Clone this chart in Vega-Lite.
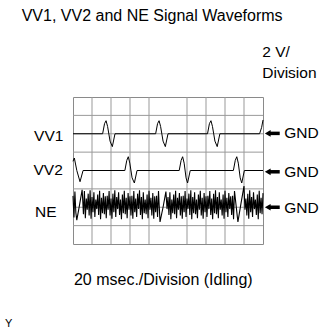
{
  "$schema": "https://vega.github.io/schema/vega-lite/v6.json",
  "width": 190,
  "height": 147,
  "autosize": {"type": "none"},
  "padding": {"left": 73, "top": 97, "right": 70, "bottom": 89},
  "background": "white",
  "config": {"view": {"stroke": "#8a8a8a", "strokeWidth": 1}, "font": "Liberation Sans", "axis": {"disable": true}},
  "datasets": {
    "gx": [{"v": 1}, {"v": 2}, {"v": 3}, {"v": 4}, {"v": 6}, {"v": 7}, {"v": 8}, {"v": 9}],
    "gy": [{"v": 1}, {"v": 2}, {"v": 3}, {"v": 5}, {"v": 6}, {"v": 7}],
    "vv1": [
      {"x": 0, "y": 6}, {"x": 1.56, "y": 6}, {"x": 1.66, "y": 6.55}, {"x": 1.74, "y": 6.71}, {"x": 1.82, "y": 6.4}, {"x": 1.95, "y": 5.6}, {"x": 2.07, "y": 5.3}, {"x": 2.21, "y": 6},
      {"x": 4.35, "y": 6}, {"x": 4.45, "y": 6.55}, {"x": 4.53, "y": 6.71}, {"x": 4.61, "y": 6.4}, {"x": 4.74, "y": 5.6}, {"x": 4.86, "y": 5.3}, {"x": 5.0, "y": 6},
      {"x": 7.08, "y": 6}, {"x": 7.18, "y": 6.55}, {"x": 7.26, "y": 6.71}, {"x": 7.34, "y": 6.4}, {"x": 7.47, "y": 5.6}, {"x": 7.59, "y": 5.3}, {"x": 7.73, "y": 6},
      {"x": 9.82, "y": 6}, {"x": 9.93, "y": 6.35}, {"x": 10, "y": 6.75}
    ],
    "vv2": [
      {"x": 0, "y": 4.5}, {"x": 0.07, "y": 4.68}, {"x": 0.2, "y": 4.0}, {"x": 0.37, "y": 3.39}, {"x": 0.53, "y": 4},
      {"x": 2.73, "y": 4}, {"x": 2.83, "y": 4.55}, {"x": 2.91, "y": 4.75}, {"x": 2.99, "y": 4.4}, {"x": 3.11, "y": 3.6}, {"x": 3.23, "y": 3.32}, {"x": 3.37, "y": 4},
      {"x": 5.59, "y": 4}, {"x": 5.69, "y": 4.55}, {"x": 5.77, "y": 4.75}, {"x": 5.85, "y": 4.4}, {"x": 5.95, "y": 3.6}, {"x": 6.03, "y": 3.32}, {"x": 6.17, "y": 4},
      {"x": 8.44, "y": 4}, {"x": 8.54, "y": 4.55}, {"x": 8.62, "y": 4.75}, {"x": 8.7, "y": 4.4}, {"x": 8.8, "y": 3.6}, {"x": 8.88, "y": 3.32}, {"x": 9.02, "y": 4},
      {"x": 10, "y": 4}
    ],
    "ne": [
      {"x": 0.00, "y": 2.62}, {"x": 0.05, "y": 1.45}, {"x": 0.10, "y": 2.85}, {"x": 0.15, "y": 1.70}, {"x": 0.20, "y": 1.30}, {"x": 0.34, "y": 2.10}, {"x": 0.48, "y": 2.95},
      {"x": 0.50, "y": 2.62}, {"x": 0.55, "y": 1.62}, {"x": 0.60, "y": 2.88}, {"x": 0.65, "y": 1.40}, {"x": 0.70, "y": 2.47}, {"x": 0.75, "y": 1.86}, {"x": 0.80, "y": 2.74}, {"x": 0.85, "y": 1.55}, {"x": 0.90, "y": 2.93}, {"x": 0.95, "y": 1.37},
      {"x": 1.00, "y": 2.55}, {"x": 1.05, "y": 1.73}, {"x": 1.10, "y": 2.81}, {"x": 1.15, "y": 1.47}, {"x": 1.20, "y": 2.42}, {"x": 1.25, "y": 1.90}, {"x": 1.30, "y": 2.69}, {"x": 1.35, "y": 1.58}, {"x": 1.40, "y": 2.90}, {"x": 1.45, "y": 1.35},
      {"x": 1.50, "y": 2.51}, {"x": 1.55, "y": 1.68}, {"x": 1.60, "y": 2.77}, {"x": 1.65, "y": 1.62}, {"x": 1.70, "y": 2.60}, {"x": 1.75, "y": 1.40}, {"x": 1.80, "y": 2.62}, {"x": 1.85, "y": 1.86}, {"x": 1.90, "y": 2.88}, {"x": 1.95, "y": 1.55},
      {"x": 2.00, "y": 2.47}, {"x": 2.05, "y": 1.37}, {"x": 2.10, "y": 2.74}, {"x": 2.15, "y": 1.73}, {"x": 2.20, "y": 2.93}, {"x": 2.25, "y": 1.47}, {"x": 2.30, "y": 2.55}, {"x": 2.35, "y": 1.90}, {"x": 2.40, "y": 2.81}, {"x": 2.45, "y": 1.58},
      {"x": 2.50, "y": 2.42}, {"x": 2.55, "y": 1.35}, {"x": 2.60, "y": 2.69}, {"x": 2.65, "y": 1.68}, {"x": 2.70, "y": 2.90}, {"x": 2.75, "y": 1.62}, {"x": 2.80, "y": 2.51}, {"x": 2.85, "y": 1.40}, {"x": 2.90, "y": 2.77}, {"x": 2.95, "y": 1.86},
      {"x": 3.00, "y": 2.60}, {"x": 3.05, "y": 1.55}, {"x": 3.10, "y": 2.62}, {"x": 3.15, "y": 1.37}, {"x": 3.20, "y": 2.88}, {"x": 3.25, "y": 1.73}, {"x": 3.30, "y": 2.47}, {"x": 3.35, "y": 1.47}, {"x": 3.40, "y": 2.74}, {"x": 3.45, "y": 1.90},
      {"x": 3.50, "y": 2.93}, {"x": 3.55, "y": 1.58}, {"x": 3.60, "y": 2.55}, {"x": 3.65, "y": 1.35}, {"x": 3.70, "y": 2.81}, {"x": 3.75, "y": 1.68}, {"x": 3.80, "y": 2.42}, {"x": 3.85, "y": 1.62}, {"x": 3.90, "y": 2.69}, {"x": 3.95, "y": 1.40},
      {"x": 4.00, "y": 2.90}, {"x": 4.05, "y": 1.86}, {"x": 4.10, "y": 2.51}, {"x": 4.15, "y": 1.55}, {"x": 4.20, "y": 2.77}, {"x": 4.25, "y": 1.37}, {"x": 4.30, "y": 2.60}, {"x": 4.35, "y": 1.73}, {"x": 4.40, "y": 2.62}, {"x": 4.45, "y": 1.47},
      {"x": 4.50, "y": 2.88}, {"x": 4.58, "y": 1.20}, {"x": 4.74, "y": 2.00}, {"x": 4.89, "y": 2.85},
      {"x": 4.95, "y": 1.90}, {"x": 5.00, "y": 2.55}, {"x": 5.05, "y": 1.58}, {"x": 5.10, "y": 2.81}, {"x": 5.15, "y": 1.35}, {"x": 5.20, "y": 2.42}, {"x": 5.25, "y": 1.68}, {"x": 5.30, "y": 2.69}, {"x": 5.35, "y": 1.62}, {"x": 5.40, "y": 2.90},
      {"x": 5.45, "y": 1.40}, {"x": 5.50, "y": 2.51}, {"x": 5.55, "y": 1.86}, {"x": 5.60, "y": 2.77}, {"x": 5.65, "y": 1.55}, {"x": 5.70, "y": 2.60}, {"x": 5.75, "y": 1.37}, {"x": 5.80, "y": 2.62}, {"x": 5.85, "y": 1.73}, {"x": 5.90, "y": 2.88},
      {"x": 5.95, "y": 1.47}, {"x": 6.00, "y": 2.47}, {"x": 6.05, "y": 1.90}, {"x": 6.10, "y": 2.74}, {"x": 6.15, "y": 1.58}, {"x": 6.20, "y": 2.93}, {"x": 6.25, "y": 1.35}, {"x": 6.30, "y": 2.55}, {"x": 6.35, "y": 1.68}, {"x": 6.40, "y": 2.81},
      {"x": 6.45, "y": 1.62}, {"x": 6.50, "y": 2.42}, {"x": 6.55, "y": 1.40}, {"x": 6.60, "y": 2.69}, {"x": 6.65, "y": 1.86}, {"x": 6.70, "y": 2.90}, {"x": 6.75, "y": 1.55}, {"x": 6.80, "y": 2.51}, {"x": 6.85, "y": 1.37}, {"x": 6.90, "y": 2.77},
      {"x": 6.95, "y": 1.73}, {"x": 7.00, "y": 2.60}, {"x": 7.05, "y": 1.47}, {"x": 7.10, "y": 2.62}, {"x": 7.15, "y": 1.90}, {"x": 7.20, "y": 2.88}, {"x": 7.25, "y": 1.58}, {"x": 7.30, "y": 2.47}, {"x": 7.35, "y": 1.35}, {"x": 7.40, "y": 2.74},
      {"x": 7.45, "y": 1.68}, {"x": 7.50, "y": 2.93}, {"x": 7.55, "y": 1.62}, {"x": 7.60, "y": 2.55}, {"x": 7.65, "y": 1.40}, {"x": 7.70, "y": 2.81}, {"x": 7.75, "y": 1.86}, {"x": 7.80, "y": 2.42}, {"x": 7.85, "y": 1.55}, {"x": 7.90, "y": 2.69},
      {"x": 7.95, "y": 1.37}, {"x": 8.00, "y": 2.90}, {"x": 8.05, "y": 1.73}, {"x": 8.10, "y": 2.51}, {"x": 8.15, "y": 1.47}, {"x": 8.20, "y": 2.77}, {"x": 8.25, "y": 1.90}, {"x": 8.30, "y": 2.60}, {"x": 8.35, "y": 1.58}, {"x": 8.40, "y": 2.62},
      {"x": 8.45, "y": 1.35}, {"x": 8.50, "y": 2.88}, {"x": 8.68, "y": 1.20}, {"x": 8.84, "y": 2.20}, {"x": 9.00, "y": 3.15},
      {"x": 9.05, "y": 1.86}, {"x": 9.10, "y": 2.47}, {"x": 9.15, "y": 1.55}, {"x": 9.20, "y": 2.74}, {"x": 9.25, "y": 1.37}, {"x": 9.30, "y": 2.93}, {"x": 9.35, "y": 1.73}, {"x": 9.40, "y": 2.55}, {"x": 9.45, "y": 1.47}, {"x": 9.50, "y": 2.81},
      {"x": 9.55, "y": 1.90}, {"x": 9.60, "y": 2.42}, {"x": 9.65, "y": 1.58}, {"x": 9.70, "y": 2.69}, {"x": 9.75, "y": 1.35}, {"x": 9.80, "y": 2.90}, {"x": 9.85, "y": 1.68}, {"x": 9.90, "y": 2.51}, {"x": 9.95, "y": 1.62}, {"x": 10.00, "y": 2.77}
    ],
    "arrows": [
      {"label": "GND", "y": 6.02, "ty": 5.75},
      {"label": "GND", "y": 3.93, "ty": 3.63},
      {"label": "GND", "y": 2.0, "ty": 1.67}
    ],
    "bigtext": [
      {"text": "VV1, VV2 and NE Signal Waveforms", "x": -2.7, "y": 12.14},
      {"text": "20 msec./Division (Idling)", "x": 0.05, "y": -2.22}
    ],
    "labels": [
      {"text": "2 V/", "x": 9.96, "y": 10.18},
      {"text": "Division", "x": 9.96, "y": 9.03},
      {"text": "VV1", "x": -2.05, "y": 5.62},
      {"text": "VV2", "x": -2.08, "y": 3.76},
      {"text": "NE", "x": -2.0, "y": 1.49}
    ],
    "small": [
      {"text": "Y", "x": -3.58, "y": -4.52}
    ]
  },
  "resolve": {"scale": {"x": "shared", "y": "shared"}},
  "layer": [
    {
      "data": {"name": "gx"},
      "mark": {"type": "rule", "color": "#999999", "strokeWidth": 1},
      "encoding": {
        "x": {"field": "v", "type": "quantitative", "scale": {"domain": [0, 10], "nice": false, "zero": false}}
      }
    },
    {
      "data": {"name": "gy"},
      "mark": {"type": "rule", "color": "#999999", "strokeWidth": 1},
      "encoding": {
        "y": {"field": "v", "type": "quantitative", "scale": {"domain": [0, 8], "nice": false, "zero": false}}
      }
    },
    {
      "mark": {"type": "rule", "color": "#333333", "strokeWidth": 1, "strokeDash": [1, 1]},
      "encoding": {"x": {"datum": 5, "type": "quantitative"}}
    },
    {
      "mark": {"type": "rule", "color": "#333333", "strokeWidth": 1, "strokeDash": [1, 1]},
      "encoding": {"y": {"datum": 4, "type": "quantitative"}}
    },
    {
      "data": {"name": "vv1"},
      "mark": {"type": "line", "color": "black", "strokeWidth": 1},
      "encoding": {
        "x": {"field": "x", "type": "quantitative"},
        "y": {"field": "y", "type": "quantitative"}
      }
    },
    {
      "data": {"name": "vv2"},
      "mark": {"type": "line", "color": "black", "strokeWidth": 1},
      "encoding": {
        "x": {"field": "x", "type": "quantitative"},
        "y": {"field": "y", "type": "quantitative"}
      }
    },
    {
      "data": {"name": "ne"},
      "mark": {"type": "line", "color": "black", "strokeWidth": 1.1},
      "encoding": {
        "x": {"field": "x", "type": "quantitative"},
        "y": {"field": "y", "type": "quantitative"}
      }
    },
    {
      "data": {"name": "arrows"},
      "layer": [
        {
          "mark": {"type": "rule", "color": "black", "strokeWidth": 3.5},
          "encoding": {
            "x": {"datum": 10.3, "type": "quantitative"},
            "x2": {"datum": 10.88},
            "y": {"field": "y", "type": "quantitative"}
          }
        },
        {
          "mark": {"type": "point", "shape": "triangle-left", "filled": true, "color": "black", "opacity": 1, "size": 45},
          "encoding": {
            "x": {"datum": 10.25, "type": "quantitative"},
            "y": {"field": "y", "type": "quantitative"}
          }
        },
        {
          "mark": {"type": "text", "align": "left", "baseline": "alphabetic", "fontSize": 15.5, "color": "black"},
          "encoding": {
            "x": {"datum": 11.12, "type": "quantitative"},
            "y": {"field": "ty", "type": "quantitative"},
            "text": {"field": "label"}
          }
        }
      ]
    },
    {
      "data": {"name": "bigtext"},
      "mark": {"type": "text", "align": "left", "baseline": "alphabetic", "fontSize": 16, "color": "black"},
      "encoding": {
        "x": {"field": "x", "type": "quantitative"},
        "y": {"field": "y", "type": "quantitative"},
        "text": {"field": "text"}
      }
    },
    {
      "data": {"name": "labels"},
      "mark": {"type": "text", "align": "left", "baseline": "alphabetic", "fontSize": 15.5, "color": "black"},
      "encoding": {
        "x": {"field": "x", "type": "quantitative"},
        "y": {"field": "y", "type": "quantitative"},
        "text": {"field": "text"}
      }
    },
    {
      "data": {"name": "small"},
      "mark": {"type": "text", "align": "left", "baseline": "alphabetic", "fontSize": 11, "color": "black"},
      "encoding": {
        "x": {"field": "x", "type": "quantitative"},
        "y": {"field": "y", "type": "quantitative"},
        "text": {"field": "text"}
      }
    }
  ]
}
